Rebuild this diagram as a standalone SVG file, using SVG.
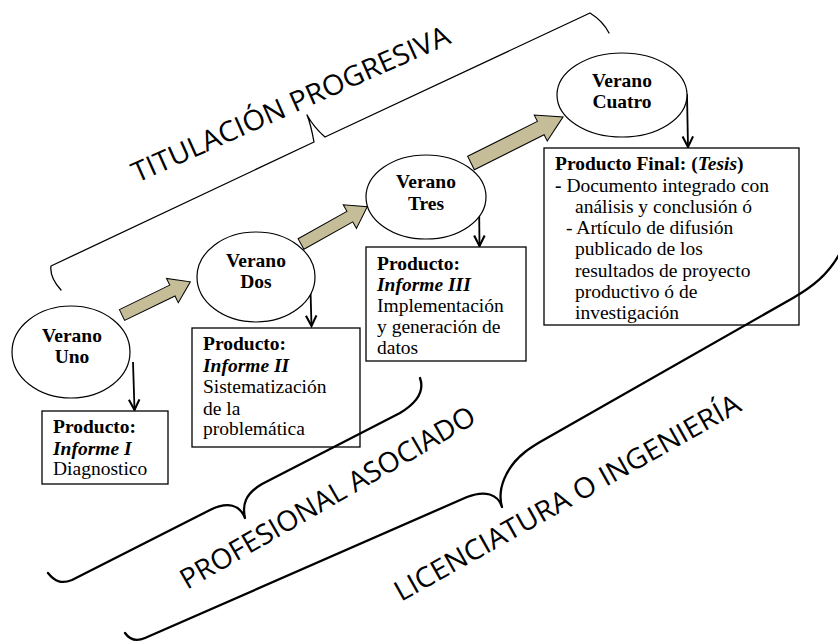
<svg xmlns="http://www.w3.org/2000/svg" width="838" height="642" viewBox="0 0 838 642">
<style>
.node ellipse{fill:#fff;stroke:#000;stroke-width:1.2}
.node rect{fill:#fff;stroke:#000;stroke-width:1.3}
.t{font-size:19.5px;fill:#000}
.b{font-weight:bold}
.i{font-style:italic}
.c{text-anchor:middle}
.big{font-size:28px;fill:#000}
.blk{fill:#c4bd97;stroke:#000;stroke-width:1}
.dn{stroke:#000;stroke-width:1.8;fill:none;marker-end:url(#v)}
.brace{fill:none;stroke:#000;stroke-linecap:round;stroke-linejoin:round}
</style>
<defs>
<marker id="v" markerUnits="userSpaceOnUse" markerWidth="14" markerHeight="14" refX="10" refY="5" orient="auto" viewBox="0 0 12 10">
<path d="M1,0.5 L10,5 L1,9.5" fill="none" stroke="#000" stroke-width="1.8"/>
</marker>
</defs>

<g id="connectors">
<polygon class="blk" transform="translate(122,315) rotate(-25.9)" points="0,-6 56,-6 56,-13.5 76,0 56,13.5 56,6 0,6"/>
<polygon class="blk" transform="translate(301,244) rotate(-29.3)" points="0,-6 56,-6 56,-13.5 76,0 56,13.5 56,6 0,6"/>
<polygon class="blk" transform="translate(471,163) rotate(-26.6)" points="0,-7.5 78,-7.5 78,-14.5 103,0 78,14.5 78,7.5 0,7.5"/>
<line class="dn" x1="133" y1="362" x2="134.5" y2="410"/>
<line class="dn" x1="310" y1="273" x2="311.5" y2="326"/>
<line class="dn" x1="479" y1="196" x2="479.5" y2="246"/>
<line class="dn" x1="687" y1="94" x2="688" y2="147"/>
</g>

<g font-family="Liberation Serif, Times New Roman, serif">
<g id="verano-uno" class="node">
<ellipse cx="71" cy="352" rx="59" ry="46"/>
<text class="t b c" x="72" y="342">Verano</text>
<text class="t b c" x="72" y="363">Uno</text>
</g>
<g id="verano-dos" class="node">
<ellipse cx="256" cy="277" rx="59" ry="45"/>
<text class="t b c" x="256" y="267">Verano</text>
<text class="t b c" x="256" y="288">Dos</text>
</g>
<g id="verano-tres" class="node">
<ellipse cx="426" cy="197" rx="60" ry="42"/>
<text class="t b c" x="426" y="188">Verano</text>
<text class="t b c" x="426" y="210">Tres</text>
</g>
<g id="verano-cuatro" class="node">
<ellipse cx="622" cy="95" rx="65" ry="42"/>
<text class="t b c" x="622" y="87">Verano</text>
<text class="t b c" x="622" y="108">Cuatro</text>
</g>

<g id="informe-1" class="node">
<rect x="42" y="411" width="126" height="73"/>
<text class="t b" x="53" y="433">Producto:</text>
<text class="t b i" x="53" y="455">Informe I</text>
<text class="t" x="53" y="475">Diagnostico</text>
</g>
<g id="informe-2" class="node">
<rect x="192" y="328" width="168" height="119"/>
<text class="t b" x="203" y="350">Producto:</text>
<text class="t b i" x="203" y="372">Informe II</text>
<text class="t" x="203" y="393">Sistematización</text>
<text class="t" x="203" y="415">de la</text>
<text class="t" x="203" y="435">problemática</text>
</g>
<g id="informe-3" class="node">
<rect x="366" y="247" width="160" height="114"/>
<text class="t b" x="377" y="270">Producto:</text>
<text class="t b i" x="377" y="291">Informe III</text>
<text class="t" x="377" y="312">Implementación</text>
<text class="t" x="377" y="333">y generación de</text>
<text class="t" x="377" y="354">datos</text>
</g>
<g id="producto-final" class="node">
<rect x="544" y="148" width="255" height="177"/>
<text class="t b" x="555" y="170">Producto Final: (<tspan class="i">Tesis</tspan>)</text>
<text class="t" x="555" y="192"><tspan class="b">-</tspan> Documento integrado con</text>
<text class="t" x="575" y="213">análisis y conclusión ó</text>
<text class="t" x="566" y="234">- Artículo de difusión</text>
<text class="t" x="575" y="255">publicado de los</text>
<text class="t" x="575" y="277">resultados de proyecto</text>
<text class="t" x="575" y="298">productivo ó  de</text>
<text class="t" x="575" y="319">investigación</text>
</g>
</g>

<g font-family="Open Sans, Liberation Sans, sans-serif">
<g id="titulacion-progresiva">
<path class="brace" stroke-width="1.3" d="M61,290 C53,281 50,273 51,266 L314,142 C312,131 310,122 307,115 C312,124 318,131 325,137 L590,13 C598,18 605,25 609,33"/>
<text class="big" transform="translate(137,183) rotate(-24)" textLength="345" lengthAdjust="spacingAndGlyphs">TITULACIÓN PROGRESIVA</text>
</g>
<g id="profesional-asociado">
<path class="brace" stroke-width="2.3" d="M48,573 C55,582 62,584 72,580 L210,510 C228,501 240,505 245,518 C242,505 245,494 262,484 L400,413 C415,404 425,392 420,378"/>
<text class="big" transform="translate(187,590) rotate(-30)" textLength="336" lengthAdjust="spacingAndGlyphs">PROFESIONAL ASOCIADO</text>
</g>
<g id="licenciatura">
<path class="brace" stroke-width="2.3" d="M125,633 C130,640 136,642 145,638 L467,497 C485,490 498,494 502,507 C497,490 505,468 525,452 C530,448 535,445 540,442 L793,298 C812,287 828,275 840,253"/>
<text class="big" transform="translate(401,602) rotate(-29.3)" textLength="392" lengthAdjust="spacingAndGlyphs">LICENCIATURA O INGENIERÍA</text>
</g>
</g>
</svg>
